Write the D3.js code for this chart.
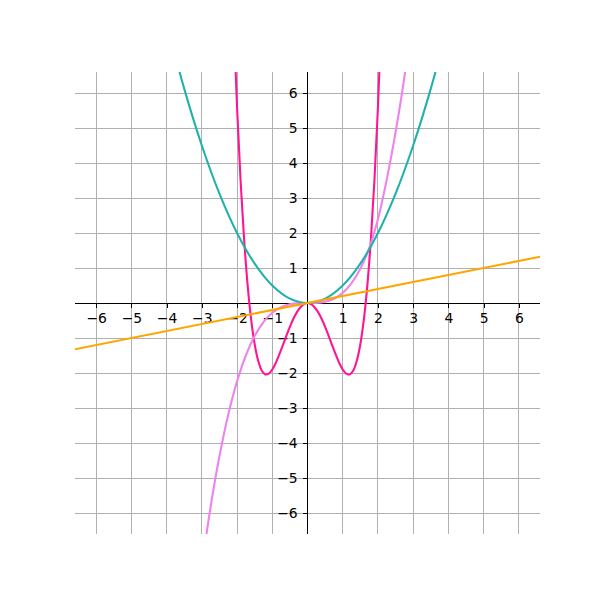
<!DOCTYPE html>
<html>
<head>
<meta charset="utf-8">
<script src="https://cdn.jsdelivr.net/npm/d3@7"></script>
<style>
  html, body { margin: 0; padding: 0; background: #ffffff; }
  svg { display: block; }
</style>
</head>
<body>
<svg id="chart" width="600" height="600"></svg>
<script>
// ---- data ----
const xTicks = [-6, -5, -4, -3, -2, -1, 1, 2, 3, 4, 5, 6];
const yTicks = [-6, -5, -4, -3, -2, -1, 1, 2, 3, 4, 5, 6];

// orange line
const orangeX = [-6.6, 6.6];
const orangeY = [-1.32, 1.32];

// light sea green parabola
const tealX = [-4, -3.5, -3, -2.5, -2, -1.5, -1, -0.5, 0, 0.5, 1, 1.5, 2, 2.5, 3, 3.5, 4];
const tealY = [8, 6.125, 4.5, 3.125, 2, 1.125, 0.5, 0.125, 0, 0.125, 0.5, 1.125, 2, 3.125, 4.5, 6.125, 8];

// violet cubic-like curve
const violetX = [-3, -2.75, -2.5, -2.25, -2, -1.75, -1.5, -1.25, -1, -0.75, -0.5, -0.25, 0,
                 0.25, 0.5, 0.75, 1, 1.25, 1.5, 1.75, 2, 2.25, 2.5, 2.75, 3];
const violetY = [-7.56, -5.82, -4.38, -3.19, -2.24, -1.5, -0.945, -0.547, -0.28, -0.118, -0.035, -0.004, 0,
                 0.004, 0.036, 0.122, 0.29, 0.566, 0.98, 1.56, 2.40, 3.53, 4.88, 6.45, 8.4];

// deep pink quartic-like curve
const pinkX = [-2.2, -2.1, -2.0, -1.9, -1.8, -1.7, -1.6, -1.5, -1.4, -1.3, -1.2, -1.1, -1.0, -0.9, -0.8, -0.7, -0.6, -0.5, -0.4, -0.3, -0.2, -0.1, 0,
               0.1, 0.2, 0.3, 0.4, 0.5, 0.6, 0.7, 0.8, 0.9, 1.0, 1.1, 1.2, 1.3, 1.4, 1.5, 1.6, 1.7, 1.8, 1.9, 2.0, 2.1, 2.2];
const pinkY = [11.25, 8.16, 5.6, 3.5, 1.83, 0.52, -0.47, -1.18, -1.65, -1.93, -2.04, -2.02, -1.9, -1.71, -1.47, -1.21, -0.94, -0.68, -0.45, -0.26, -0.12, -0.03, 0,
               -0.03, -0.12, -0.26, -0.45, -0.68, -0.94, -1.21, -1.47, -1.71, -1.9, -2.02, -2.04, -1.93, -1.65, -1.18, -0.47, 0.52, 1.83, 3.5, 5.6, 8.16, 11.25];

const seriesColors = { orange: "#FFA500", teal: "#20B2AA", violet: "#EE82EE", pink: "#FF1493" };

// ---- layout ----
const svg = d3.select("#chart");
const plotLeft = 75, plotRight = 540, plotTop = 72, plotBottom = 534;

const x = d3.scaleLinear().domain([-6.6, 6.6]).range([plotLeft, plotRight]);
const y = d3.scaleLinear().domain([-6.6, 6.6]).range([plotBottom, plotTop]);

svg.append("defs").append("clipPath").attr("id", "plotclip")
  .append("rect").attr("x", plotLeft).attr("y", plotTop)
  .attr("width", plotRight - plotLeft).attr("height", plotBottom - plotTop);

// grid
const grid = svg.append("g").attr("shape-rendering", "crispEdges");
grid.selectAll("line.vx").data(xTicks).join("line").attr("class", "vx")
  .attr("x1", d => x(d)).attr("x2", d => x(d))
  .attr("y1", plotTop).attr("y2", plotBottom)
  .attr("stroke", "#b0b0b0").attr("stroke-width", 1);
grid.selectAll("line.hy").data(yTicks).join("line").attr("class", "hy")
  .attr("y1", d => y(d)).attr("y2", d => y(d))
  .attr("x1", plotLeft).attr("x2", plotRight)
  .attr("stroke", "#b0b0b0").attr("stroke-width", 1);

// axes through origin
const fmt = d => (d < 0 ? "\u2212" + Math.abs(d) : String(d));
const xAxis = d3.axisBottom(x).tickValues(xTicks).tickFormat(fmt).tickSize(4.9).tickPadding(4.9);
const yAxis = d3.axisLeft(y).tickValues(yTicks).tickFormat(fmt).tickSize(4.9).tickPadding(4.9);

const gx = svg.append("g").attr("transform", `translate(0,${y(0)})`).call(xAxis);
const gy = svg.append("g").attr("transform", `translate(${x(0)},0)`).call(yAxis);
[gx, gy].forEach(g => {
  g.select(".domain").attr("stroke", "#000").attr("stroke-width", 1).attr("shape-rendering", "crispEdges");
  g.selectAll(".tick line").attr("stroke", "#000").attr("stroke-width", 1).attr("shape-rendering", "crispEdges");
  g.selectAll(".tick text").attr("fill", "#000")
    .style("font-family", "'DejaVu Sans', sans-serif").style("font-size", "13.9px");
});
gx.select(".domain").attr("d", `M${plotLeft},0H${plotRight}`);
gy.select(".domain").attr("d", `M0,${plotTop}V${plotBottom}`);

// curves
const plot = svg.append("g").attr("clip-path", "url(#plotclip)");
const line = d3.line().x(d => x(d[0])).y(d => y(d[1])).curve(d3.curveCatmullRom.alpha(0.5));
const zip = (a, b) => a.map((v, i) => [v, b[i]]);

const series = [
  { pts: zip(pinkX, pinkY), color: seriesColors.pink },
  { pts: zip(violetX, violetY), color: seriesColors.violet },
  { pts: zip(tealX, tealY), color: seriesColors.teal },
  { pts: zip(orangeX, orangeY), color: seriesColors.orange }
];
plot.selectAll("path.series").data(series).join("path")
  .attr("class", "series")
  .attr("d", d => line(d.pts))
  .attr("fill", "none")
  .attr("stroke", d => d.color)
  .attr("stroke-width", 2.08)
  .attr("stroke-linecap", "square");
</script>
</body>
</html>
